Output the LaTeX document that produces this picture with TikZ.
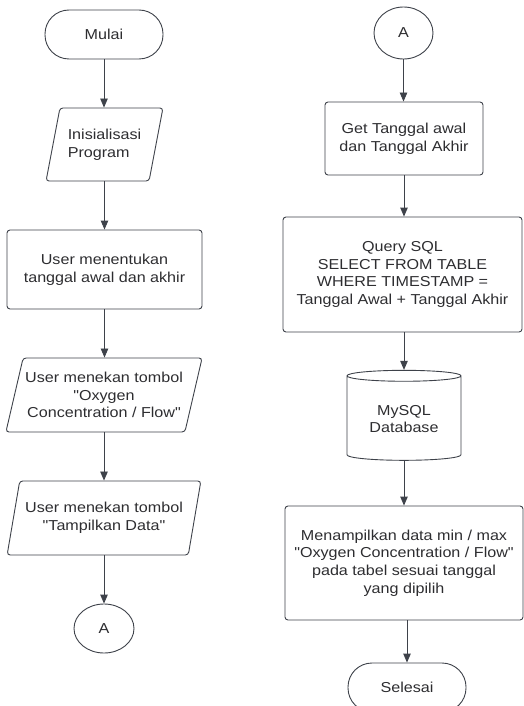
\documentclass[tikz,border=0pt]{standalone}
\usepackage{fontspec}
\setmainfont{Liberation Sans}[FakeStretch=1.12, Ligatures=TeXOff]
\usetikzlibrary{shapes.geometric,arrows.meta}
\definecolor{lineGray}{RGB}{62,66,74}
\definecolor{textGray}{RGB}{45,45,48}
\tikzset{
  base/.style = {draw=lineGray, line width=0.9pt, text=textGray,
                 align=center, inner sep=2pt,
                 font=\fontsize{14.4}{17.7}\selectfont},
  terminal/.style = {base, rectangle, rounded corners=24pt,
                     minimum width=118pt, minimum height=49pt},
  process/.style = {base, rectangle, rounded corners=3pt},
  io/.style = {base, trapezium, trapezium left angle=71,
               trapezium right angle=109, trapezium stretches=true,
               rounded corners=3pt},
  conn/.style = {base, ellipse, minimum width=60pt, minimum height=49pt},
  db/.style = {base, cylinder, shape border rotate=90, aspect=0.15},
  flow/.style = {draw=lineGray, line width=0.9pt,
                 -{Triangle[length=9pt, width=7.5pt]}}
}

\begin{document}
\begin{tikzpicture}[x=1pt, y=1pt]
	\useasboundingbox (0,0) rectangle (524,-706);

	% Left column
	\node[terminal] (mulai) at (104,-34.5) {Mulai};
	\node[io, minimum width=117pt, minimum height=73pt, align=left] (init) at (104.5,-144.5) {Inisialisasi\\Program};
	\node[process, minimum width=195pt, minimum height=79pt] (tentukan) at (104.5,-269.5) {User menentukan\\tanggal awal dan akhir};
	\node[io, minimum width=194pt, minimum height=74pt] (oxygen) at (104,-395) {User menekan tombol\\"Oxygen\\Concentration / Flow"};
	\node[io, minimum width=194pt, minimum height=74pt] (tampil) at (104,-518) {User menekan tombol\\"Tampilkan Data"};
	\node[conn] (outA) at (104,-628.5) {A};

	% Right column
	\node[conn, minimum width=59pt, minimum height=52pt] (inA) at (403.5,-33) {A};
	\node[process, minimum width=158pt, minimum height=73pt] (get) at (404,-138.5) {Get Tanggal awal\\dan Tanggal Akhir};
	\node[process, minimum width=239pt, minimum height=115pt] (query) at (402.5,-274.5) {Query SQL\\SELECT FROM TABLE\\WHERE TIMESTAMP =\\Tanggal Awal + Tanggal Akhir};
	\node[db, minimum width=114pt, minimum height=90pt] (mysql) at (404,-419) {MySQL\\Database};
	\node[process, minimum width=238pt, minimum height=114pt] (hasil) at (404,-563) {Menampilkan data min / max\\"Oxygen Concentration / Flow"\\pada tabel sesuai tanggal\\yang dipilih};
	\node[terminal] (selesai) at (407,-687.5) {Selesai};

	% Arrows
	\draw[flow] (mulai.south) -- (mulai.south |- init.north);
	\draw[flow] (init.south) -- (init.south |- tentukan.north);
	\draw[flow] (tentukan.south) -- (tentukan.south |- oxygen.north);
	\draw[flow] (oxygen.south) -- (oxygen.south |- tampil.north);
	\draw[flow] (tampil.south) -- (tampil.south |- outA.north);

	\draw[flow] (inA.south) -- (inA.south |- get.north);
	\draw[flow] (get.south) -- (get.south |- query.north);
	\draw[flow] (mysql.north |- query.south) -- (mysql.north);
	\draw[flow] (mysql.south) -- (mysql.south |- hasil.north);
	\draw[flow] (selesai.north |- hasil.south) -- (selesai.north);
\end{tikzpicture}
\end{document}
